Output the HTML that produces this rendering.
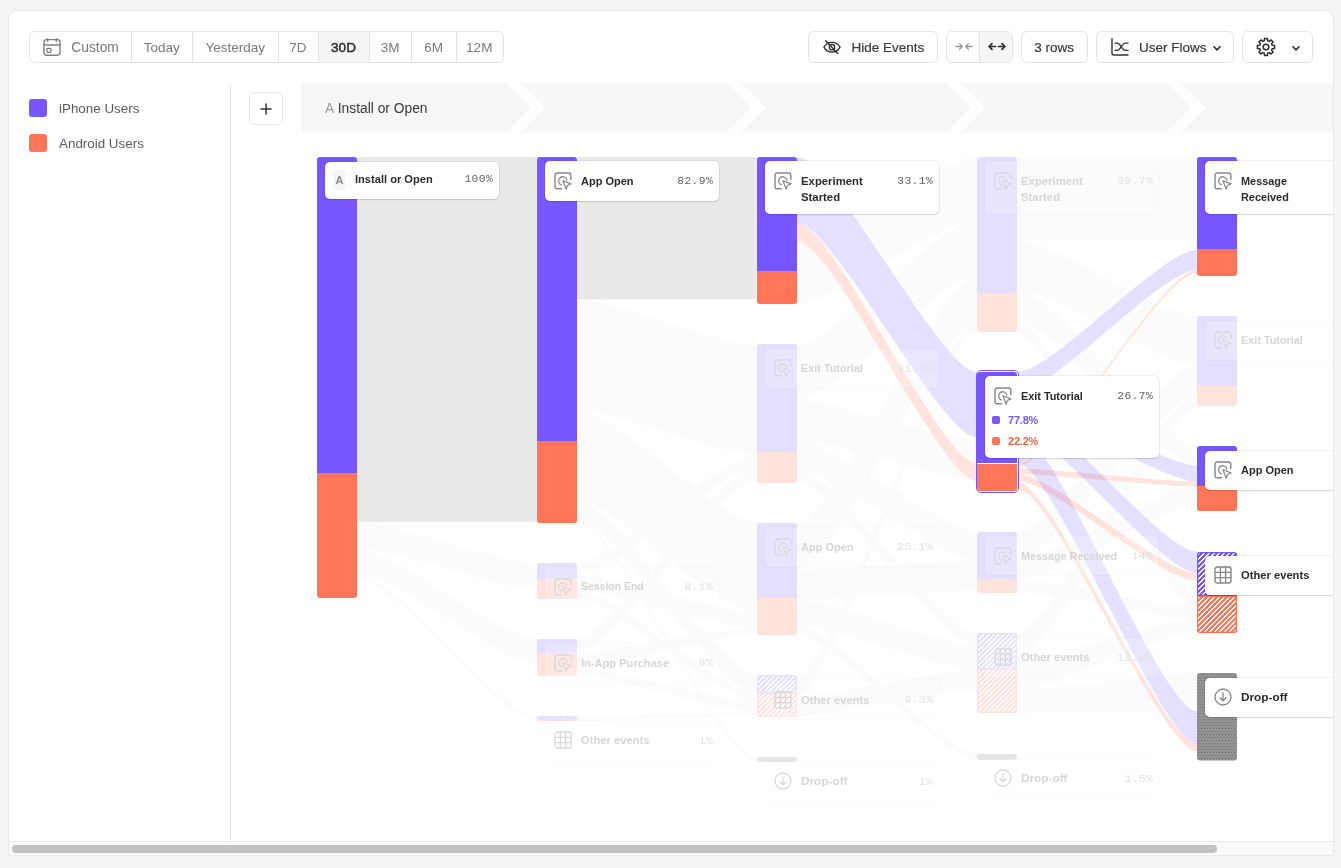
<!DOCTYPE html>
<html><head><meta charset="utf-8"><title>Flows</title>
<style>
*{box-sizing:border-box;margin:0;padding:0}
html,body{width:1341px;height:868px;overflow:hidden;background:#f5f5f5;font-family:"Liberation Sans",sans-serif}
#panel{position:absolute;left:8px;top:10px;width:1326px;height:846px;background:#fff;border-radius:10px 10px 0 0;overflow:hidden}
#abs{position:absolute;left:-8px;top:-10px;width:0;height:0}
#abs>*{position:absolute}
#frame{position:absolute;left:8px;top:10px;width:1326px;height:846px;border:1px solid #e9e9e9;border-radius:10px 10px 0 0;pointer-events:none}
.grp{position:absolute;border:1px solid #e3e3e3;border-radius:6px;background:#fff;font-size:13.5px;color:#7a7a7a;line-height:31.5px;white-space:nowrap;overflow:hidden}
.grp.btn{color:#3a3a3a;-webkit-text-stroke:.2px #3a3a3a}
.seg{position:absolute;top:0;height:30px;text-align:center}
.seg.act{background:#f5f5f5;color:#2b2b2b;-webkit-text-stroke:.45px #2b2b2b}
.lg{position:absolute;width:18px;height:18px;border-radius:3px}
.lt{position:absolute;font-size:13.4px;color:#5a5a5a;white-space:nowrap}
.flows{position:absolute;overflow:visible}
.bar{position:absolute}
.card{position:absolute;background:#fff;border-radius:5px;box-shadow:0 1px 1.5px rgba(0,0,0,.12),0 0 0 1px rgba(0,0,0,.055)}
.card.faded{background:rgba(255,255,255,.2);box-shadow:0 0 0 1px rgba(0,0,0,.016)}
.card .ic{position:absolute}
.ic{position:absolute}
.nm{position:absolute;left:36px;top:11.5px;font-size:11.1px;font-weight:bold;line-height:16px;color:#2b2b2b;white-space:nowrap}
.pct{position:absolute;right:6.2px;top:12.4px;font-family:"Liberation Mono",monospace;font-size:11.3px;letter-spacing:.42px;margin-right:-.42px;line-height:16px;color:#626262}
.faded .nm{color:#d6d6d6}
.faded .pct{color:#e1e1e1}
.badge{position:absolute;left:9px;top:8.5px;width:11px;height:20px;background:#f3f3f3;border-radius:3px;font-size:11px;font-weight:bold;color:#8a8a8a;text-align:center;line-height:20px}
.sel{position:absolute;border:1px solid #7856ff;border-radius:5px;background:#fff}
.sq{position:absolute;left:7px;width:8px;height:8px;border-radius:2px}
.sv{position:absolute;left:23px;font-size:11px;font-weight:bold;line-height:16px;letter-spacing:-.2px}
</style></head>
<body>
<div id="panel"><div id="abs">
<div class="grp" style="left:29px;top:31px;width:474.5px;height:32px"><div class="seg" style="left:-2px;width:102.5px;"><svg width="18" height="18" viewBox="0 0 18 18" fill="none" stroke="#808080" stroke-width="1.4" stroke-linecap="round" style="position:absolute;left:15px;top:6px"><rect x="1" y="1.6" width="16" height="15.6" rx="2.6"/><path d="M1 7H17M4.7 0.8V3.6M13.3 0.8V3.6"/><rect x="4" y="10.4" width="3.9" height="3.9" rx=".5" stroke-width="1.3"/></svg><span style="position:absolute;left:43.3px;top:0;font-size:13.8px">Custom</span></div><div class="seg" style="left:100.5px;width:61.5px;border-left:1px solid #e3e3e3;">Today</div><div class="seg" style="left:162px;width:85.5px;border-left:1px solid #e3e3e3;">Yesterday</div><div class="seg" style="left:247.5px;width:40.0px;border-left:1px solid #e3e3e3;">7D</div><div class="seg act" style="left:287.5px;width:51.0px;border-left:1px solid #e3e3e3;">30D</div><div class="seg" style="left:338.5px;width:42.5px;border-left:1px solid #e3e3e3;">3M</div><div class="seg" style="left:381px;width:44.5px;border-left:1px solid #e3e3e3;">6M</div><div class="seg" style="left:425.5px;width:46.5px;border-left:1px solid #e3e3e3;">12M</div></div>
<div class="grp btn" style="left:808px;top:31px;width:129.5px;height:32px"><svg width="18" height="14.4" viewBox="0 0 20 16" fill="none" stroke="#333" stroke-width="1.5" stroke-linecap="round" stroke-linejoin="round" style="position:absolute;left:14px;top:7.8px"><path d="M1 8C3 4.4 6.2 2.6 10 2.6S17 4.4 19 8C17 11.6 13.8 13.4 10 13.4S3 11.6 1 8Z"/><circle cx="10" cy="8" r="3"/><path d="M3 0.8L16.6 15.2"/></svg><span style="position:absolute;left:42.5px;top:0">Hide Events</span></div><div class="grp" style="left:946px;top:31px;width:66.5px;height:32px"><div style="position:absolute;left:32px;top:0;width:33.5px;height:30px;background:#f5f5f5;border-left:1px solid #e3e3e3;border-radius:0 5px 5px 0"></div><svg width="18" height="9" viewBox="0 0 20 10" fill="none" stroke="#9a9a9a" stroke-width="1.5" stroke-linecap="round" stroke-linejoin="round" style="position:absolute;left:7.5px;top:10.4px"><path d="M1 5H8.2M4.999999999999999 1.7999999999999998L8.2 5L4.999999999999999 8.2M19 5H11.8M15.0 1.7999999999999998L11.8 5L15.0 8.2"/></svg><svg width="18" height="9" viewBox="0 0 20 10" fill="none" stroke="#2a2a2a" stroke-width="1.8" stroke-linecap="round" stroke-linejoin="round" style="position:absolute;left:40.6px;top:10.4px"><path d="M8.4 5H1.2M4.4 1.7999999999999998L1.2 5L4.4 8.2M11.6 5H18.8M15.600000000000001 1.7999999999999998L18.8 5L15.600000000000001 8.2"/></svg></div><div class="grp btn" style="left:1021px;top:31px;width:66.5px;height:32px"><span style="position:absolute;left:0;right:0;text-align:center">3 rows</span></div><div class="grp btn" style="left:1096px;top:31px;width:137.5px;height:32px"><svg width="18" height="18" viewBox="0 0 18 18" fill="none" stroke="#333" stroke-width="1.4" stroke-linecap="round" stroke-linejoin="round" style="position:absolute;left:13.5px;top:6px"><path d="M1 0.8V15A2 2 0 0 0 3 17H17"/><path d="M4 5.2H6.4C9.6 5.2 10.8 12.4 14.4 12.4H17M4 12.4H6.4C9.6 12.4 10.8 5.2 14.4 5.2H17" stroke-width="1.3"/></svg><span style="position:absolute;left:42px;top:0">User Flows</span><svg width="8" height="4.8" viewBox="0 0 10 6" fill="none" stroke="#2d2d2d" stroke-width="2" stroke-linecap="round" stroke-linejoin="round" style="position:absolute;left:116px;top:14px"><path d="M1.2 1L5 4.8L8.8 1"/></svg></div><div class="grp btn" style="left:1242px;top:31px;width:70.5px;height:32px"><svg width="20" height="20" viewBox="0 0 20 20" fill="none" stroke="#2d2d2d" stroke-width="1.5" stroke-linejoin="round" style="position:absolute;left:12.5px;top:5px"><path d="M8.29 3.83L8.56 1.42L11.44 1.42L11.71 3.83L13.15 4.43L15.05 2.92L17.08 4.95L15.57 6.85L16.17 8.29L18.58 8.56L18.58 11.44L16.17 11.71L15.57 13.15L17.08 15.05L15.05 17.08L13.15 15.57L11.71 16.17L11.44 18.58L8.56 18.58L8.29 16.17L6.85 15.57L4.95 17.08L2.92 15.05L4.43 13.15L3.83 11.71L1.42 11.44L1.42 8.56L3.83 8.29L4.43 6.85L2.92 4.95L4.95 2.92L6.85 4.43Z"/><circle cx="10" cy="10" r="2.8"/></svg><svg width="8" height="4.8" viewBox="0 0 10 6" fill="none" stroke="#2d2d2d" stroke-width="2" stroke-linecap="round" stroke-linejoin="round" style="position:absolute;left:48.6px;top:14px"><path d="M1.2 1L5 4.8L8.8 1"/></svg></div>
<div style="left:230px;top:83px;width:1px;height:758px;background:#e8e8e8"></div>
<div class="lg" style="left:29px;top:99px;background:#7856ff"></div><div class="lt" style="left:59px;top:100.5px">iPhone Users</div>
<div class="lg" style="left:29px;top:134px;background:#ff7557"></div><div class="lt" style="left:59px;top:135.5px">Android Users</div>
<div class="grp" style="left:249px;top:92px;width:34px;height:32.5px;border-radius:6px">
<svg width="12" height="12" viewBox="0 0 12 12" stroke="#333" stroke-width="1.5" stroke-linecap="round" style="position:absolute;left:10px;top:9.5px"><path d="M6 1V11M1 6H11"/></svg></div>
<svg class="flows" width="1103" height="60" viewBox="230 80 1103 60" style="left:230px;top:80px" fill="#f6f6f6"><path d="M301,83H506.3L531,107.75L506.3,132.5H301Z"/><path d="M521,83H726.3L751,107.75L726.3,132.5H521L545.7,107.75Z"/><path d="M741,83H946.3L971,107.75L946.3,132.5H741L765.7,107.75Z"/><path d="M961,83H1166.3L1191,107.75L1166.3,132.5H961L985.7,107.75Z"/><path d="M1181,83H1333V132.5H1181L1205.7,107.75Z"/></svg>
<div style="left:325px;top:99px;font-size:13.8px;line-height:20px;color:#9a9a9a;white-space:nowrap">A <span style="color:#3a3a3a;margin-left:0.5px">Install or Open</span></div>
<svg class="flows" width="1103" height="759" viewBox="230 83 1103 759" style="left:230px;top:83px"><rect x="357" y="157" width="180" height="365" fill="#e9e9e9"/><rect x="577" y="157" width="180" height="142.5" fill="#e9e9e9"/><path d="M357,522.0C393.0,522.0 501.0,563.0 537,563.0L537,589.0C501.0,589.0 393.0,548.0 357,548.0Z" fill="#fbfbfb"/><path d="M357,548.0C393.0,548.0 501.0,639.0 537,639.0L537,664.0C501.0,664.0 393.0,573.0 357,573.0Z" fill="#fbfbfb"/><path d="M357,573.0C393.0,573.0 501.0,716.0 537,716.0L537,721.0C501.0,721.0 393.0,578.0 357,578.0Z" fill="#fbfbfb"/><path d="M577,299.5C613.0,299.5 721.0,345.0 757,345.0L757,455.0C721.0,455.0 613.0,410.0 577,410.0Z" fill="#fbfbfb"/><path d="M577,410.0C613.0,410.0 721.0,523.0 757,523.0L757,613.0C721.0,613.0 613.0,500.0 577,500.0Z" fill="#fbfbfb"/><path d="M577,500.0C613.0,500.0 721.0,676.0 757,676.0L757,694.0C721.0,694.0 613.0,518.0 577,518.0Z" fill="#fbfbfb"/><path d="M577,518.0C613.0,518.0 721.0,757.0 757,757.0L757,761.0C721.0,761.0 613.0,522.0 577,522.0Z" fill="#fbfbfb"/><path d="M577,563.0C613.0,563.0 721.0,455.0 757,455.0L757,467.0C721.0,467.0 613.0,575.0 577,575.0Z" fill="#fbfbfb"/><path d="M577,575.0C613.0,575.0 721.0,613.0 757,613.0L757,628.0C721.0,628.0 613.0,590.0 577,590.0Z" fill="#fbfbfb"/><path d="M577,590.0C613.0,590.0 721.0,694.0 757,694.0L757,702.0C721.0,702.0 613.0,598.0 577,598.0Z" fill="#fbfbfb"/><path d="M577,639.0C613.0,639.0 721.0,467.0 757,467.0L757,480.0C721.0,480.0 613.0,652.0 577,652.0Z" fill="#fbfbfb"/><path d="M577,652.0C613.0,652.0 721.0,628.0 757,628.0L757,634.0C721.0,634.0 613.0,668.0 577,668.0Z" fill="#fbfbfb"/><path d="M577,668.0C613.0,668.0 721.0,702.0 757,702.0L757,712.0C721.0,712.0 613.0,675.0 577,675.0Z" fill="#fbfbfb"/><path d="M577,716.0C613.0,716.0 721.0,712.0 757,712.0L757,716.0C721.0,716.0 613.0,721.0 577,721.0Z" fill="#fbfbfb"/><path d="M797,241.0C833.0,241.0 941.0,157.0 977,157.0L977,220.0C941.0,220.0 833.0,304.0 797,304.0Z" fill="#fbfbfb"/><path d="M797,345.0C833.0,345.0 941.0,220.0 977,220.0L977,275.0C941.0,275.0 833.0,400.0 797,400.0Z" fill="#fbfbfb"/><path d="M797,400.0C833.0,400.0 941.0,440.0 977,440.0L977,480.0C941.0,480.0 833.0,440.0 797,440.0Z" fill="#fbfbfb"/><path d="M797,440.0C833.0,440.0 941.0,531.0 977,531.0L977,561.0C941.0,561.0 833.0,470.0 797,470.0Z" fill="#fbfbfb"/><path d="M797,470.0C833.0,470.0 941.0,633.0 977,633.0L977,645.0C941.0,645.0 833.0,482.0 797,482.0Z" fill="#fbfbfb"/><path d="M797,523.0C833.0,523.0 941.0,275.0 977,275.0L977,322.0C941.0,322.0 833.0,570.0 797,570.0Z" fill="#fbfbfb"/><path d="M797,570.0C833.0,570.0 941.0,561.0 977,561.0L977,590.0C941.0,590.0 833.0,600.0 797,600.0Z" fill="#fbfbfb"/><path d="M797,600.0C833.0,600.0 941.0,645.0 977,645.0L977,670.0C941.0,670.0 833.0,625.0 797,625.0Z" fill="#fbfbfb"/><path d="M797,625.0C833.0,625.0 941.0,754.0 977,754.0L977,760.0C941.0,760.0 833.0,634.0 797,634.0Z" fill="#fbfbfb"/><path d="M797,676.0C833.0,676.0 941.0,322.0 977,322.0L977,332.0C941.0,332.0 833.0,696.0 797,696.0Z" fill="#fbfbfb"/><path d="M797,696.0C833.0,696.0 941.0,670.0 977,670.0L977,690.0C941.0,690.0 833.0,716.0 797,716.0Z" fill="#fbfbfb"/><path d="M1017,157.0C1053.0,157.0 1161.0,157.0 1197,157.0L1197,240.0C1161.0,240.0 1053.0,240.0 1017,240.0Z" fill="#fbfbfb"/><path d="M1017,240.0C1053.0,240.0 1161.0,316.0 1197,316.0L1197,366.0C1161.0,366.0 1053.0,290.0 1017,290.0Z" fill="#fbfbfb"/><path d="M1017,290.0C1053.0,290.0 1161.0,446.0 1197,446.0L1197,465.0C1161.0,465.0 1053.0,320.0 1017,320.0Z" fill="#fbfbfb"/><path d="M1017,320.0C1053.0,320.0 1161.0,595.0 1197,595.0L1197,607.0C1161.0,607.0 1053.0,332.0 1017,332.0Z" fill="#fbfbfb"/><path d="M1017,531.0C1053.0,531.0 1161.0,366.0 1197,366.0L1197,395.0C1161.0,395.0 1053.0,560.0 1017,560.0Z" fill="#fbfbfb"/><path d="M1017,560.0C1053.0,560.0 1161.0,486.0 1197,486.0L1197,506.0C1161.0,506.0 1053.0,580.0 1017,580.0Z" fill="#fbfbfb"/><path d="M1017,580.0C1053.0,580.0 1161.0,607.0 1197,607.0L1197,619.0C1161.0,619.0 1053.0,592.0 1017,592.0Z" fill="#fbfbfb"/><path d="M1017,633.0C1053.0,633.0 1161.0,395.0 1197,395.0L1197,406.0C1161.0,406.0 1053.0,660.0 1017,660.0Z" fill="#fbfbfb"/><path d="M1017,660.0C1053.0,660.0 1161.0,619.0 1197,619.0L1197,632.0C1161.0,632.0 1053.0,690.0 1017,690.0Z" fill="#fbfbfb"/><path d="M1017,690.0C1053.0,690.0 1161.0,673.0 1197,673.0L1197,710.0C1161.0,710.0 1053.0,713.0 1017,713.0Z" fill="#fbfbfb"/><g style="isolation:isolate"><path d="M797,157.0C833.0,157.0 941.0,372.0 977,372.0L977,437.5C941.0,437.5 833.0,223.0 797,223.0Z" fill="#e6e0ff" style="mix-blend-mode:multiply"/><path d="M797,223.0C833.0,223.0 941.0,463.5 977,463.5L977,481.0C941.0,481.0 833.0,241.0 797,241.0Z" fill="#ffe3dd" style="mix-blend-mode:multiply"/><path d="M1017,372.0C1053.0,372.0 1161.0,250.0 1197,250.0L1197,270.0C1161.0,270.0 1053.0,392.0 1017,392.0Z" fill="#e6e0ff" style="mix-blend-mode:multiply"/><path d="M1017,392.0C1053.0,392.0 1161.0,465.5 1197,465.5L1197,481.5C1161.0,481.5 1053.0,408.0 1017,408.0Z" fill="#e6e0ff" style="mix-blend-mode:multiply"/><path d="M1017,408.0C1053.0,408.0 1161.0,551.5 1197,551.5L1197,573.0C1161.0,573.0 1053.0,430.0 1017,430.0Z" fill="#e6e0ff" style="mix-blend-mode:multiply"/><path d="M1017,430.0C1053.0,430.0 1161.0,711.0 1197,711.0L1197,743.5C1161.0,743.5 1053.0,463.0 1017,463.0Z" fill="#e6e0ff" style="mix-blend-mode:multiply"/><path d="M1017,464.5C1053.0,464.5 1161.0,270.0 1197,270.0L1197,273.0C1161.0,273.0 1053.0,467.0 1017,467.0Z" fill="#ffe3dd" style="mix-blend-mode:multiply"/><path d="M1017,468.5C1053.0,468.5 1161.0,481.5 1197,481.5L1197,486.5C1161.0,486.5 1053.0,474.0 1017,474.0Z" fill="#ffe3dd" style="mix-blend-mode:multiply"/><path d="M1017,474.0C1053.0,474.0 1161.0,573.0 1197,573.0L1197,581.0C1161.0,581.0 1053.0,481.0 1017,481.0Z" fill="#ffe3dd" style="mix-blend-mode:multiply"/><path d="M1017,481.5C1053.0,481.5 1161.0,743.5 1197,743.5L1197,751.0C1161.0,751.0 1053.0,488.5 1017,488.5Z" fill="#ffe3dd" style="mix-blend-mode:multiply"/></g></svg>
<div class="bar" style="left:317px;top:157px;width:40px;height:316px;border-radius:3px 3px 0 0;background:#7856ff;"></div><div class="bar" style="left:317px;top:473px;width:40px;height:125px;border-radius:0 0 3px 3px;background:#ff7557;"></div><div class="card" style="left:325px;top:161.5px;width:174px;height:37px"><span class="badge">A</span><span class="nm" style="left:30px;top:9.5px">Install or Open</span><span class="pct" style="top:9.5px">100%</span></div><div class="bar" style="left:537px;top:157px;width:40px;height:284px;border-radius:3px 3px 0 0;background:#7856ff;"></div><div class="bar" style="left:537px;top:441px;width:40px;height:81.5px;border-radius:0 0 3px 3px;background:#ff7557;"></div><div class="card" style="left:545px;top:161px;width:174px;height:40px"><svg class="ic" style="left:9px;top:10.5px;opacity:1" width="18" height="18" viewBox="0 0 18 18" fill="none" stroke="#868686" stroke-width="1.4" stroke-linecap="round" stroke-linejoin="round"><path d="M7.4 16.8H3.2A2.2 2.2 0 0 1 1 14.6V3.2A2.2 2.2 0 0 1 3.2 1H14.6A2.2 2.2 0 0 1 16.8 3.2V7.6"/><path d="M7.3 12.9A4.2 4.2 0 1 1 12.9 8.1" stroke-width="1.3"/><path d="M8.9 8.7L17 11.9L13.4 13.5L12.2 17.2Z" stroke-width="1.2"/></svg><span class="nm" style="font-size:11.0px">App Open</span><span class="pct">82.9%</span></div><div class="bar" style="left:537px;top:563px;width:40px;height:16px;border-radius:3px 3px 0 0;background:#e4deff;"></div><div class="bar" style="left:537px;top:579px;width:40px;height:19.5px;border-radius:0 0 3px 3px;background:#ffe2dc;"></div><div class="card faded" style="left:545px;top:567px;width:174px;height:39.5px"><svg class="ic" style="left:9px;top:10.5px;opacity:1" width="18" height="18" viewBox="0 0 18 18" fill="none" stroke="#d9d9d9" stroke-width="1.4" stroke-linecap="round" stroke-linejoin="round"><path d="M7.4 16.8H3.2A2.2 2.2 0 0 1 1 14.6V3.2A2.2 2.2 0 0 1 3.2 1H14.6A2.2 2.2 0 0 1 16.8 3.2V7.6"/><path d="M7.3 12.9A4.2 4.2 0 1 1 12.9 8.1" stroke-width="1.3"/><path d="M8.9 8.7L17 11.9L13.4 13.5L12.2 17.2Z" stroke-width="1.2"/></svg><span class="nm" style="font-size:10.45px">Session End</span><span class="pct">8.1%</span></div><div class="bar" style="left:537px;top:639px;width:40px;height:14px;border-radius:3px 3px 0 0;background:#e4deff;"></div><div class="bar" style="left:537px;top:653px;width:40px;height:22.5px;border-radius:0 0 3px 3px;background:#ffe2dc;"></div><div class="card faded" style="left:545px;top:643px;width:174px;height:39.5px"><svg class="ic" style="left:9px;top:10.5px;opacity:1" width="18" height="18" viewBox="0 0 18 18" fill="none" stroke="#d9d9d9" stroke-width="1.4" stroke-linecap="round" stroke-linejoin="round"><path d="M7.4 16.8H3.2A2.2 2.2 0 0 1 1 14.6V3.2A2.2 2.2 0 0 1 3.2 1H14.6A2.2 2.2 0 0 1 16.8 3.2V7.6"/><path d="M7.3 12.9A4.2 4.2 0 1 1 12.9 8.1" stroke-width="1.3"/><path d="M8.9 8.7L17 11.9L13.4 13.5L12.2 17.2Z" stroke-width="1.2"/></svg><span class="nm" style="font-size:11.1px">In-App Purchase</span><span class="pct">8%</span></div><div class="bar" style="left:537px;top:716px;width:40px;height:2.5px;border-radius:3px 3px 0 0;background:repeating-linear-gradient(135deg,#e4deff 0,#e4deff 1.75px,#fff 2.05px,#fff 3.2px,#e4deff 3.5px);box-shadow:inset 0 0 0 1.3px #e4deff;"></div><div class="bar" style="left:537px;top:718.5px;width:40px;height:2.5px;border-radius:0 0 3px 3px;background:repeating-linear-gradient(135deg,#ffe2dc 0,#ffe2dc 1.75px,#fff 2.05px,#fff 3.2px,#ffe2dc 3.5px);box-shadow:inset 0 0 0 1.3px #ffe2dc;"></div><div class="card faded" style="left:545px;top:720.5px;width:174px;height:39.5px"><svg class="ic" style="left:9px;top:10.5px;opacity:1" width="18" height="18" viewBox="0 0 18 18" fill="none" stroke="#d9d9d9" stroke-width="1.4"><rect x="1" y="1" width="16" height="16" rx="2.2"/><path d="M6.4 1V17M11.6 1V17M1 6.4H17M1 11.6H17" stroke-width="1.3"/></svg><span class="nm" style="font-size:11.2px">Other events</span><span class="pct">1%</span></div><div class="bar" style="left:757px;top:157px;width:40px;height:114px;border-radius:3px 3px 0 0;background:#7856ff;"></div><div class="bar" style="left:757px;top:271px;width:40px;height:33px;border-radius:0 0 3px 3px;background:#ff7557;"></div><div class="card" style="left:765px;top:161px;width:174px;height:53px"><svg class="ic" style="left:9px;top:10.5px;opacity:1" width="18" height="18" viewBox="0 0 18 18" fill="none" stroke="#868686" stroke-width="1.4" stroke-linecap="round" stroke-linejoin="round"><path d="M7.4 16.8H3.2A2.2 2.2 0 0 1 1 14.6V3.2A2.2 2.2 0 0 1 3.2 1H14.6A2.2 2.2 0 0 1 16.8 3.2V7.6"/><path d="M7.3 12.9A4.2 4.2 0 1 1 12.9 8.1" stroke-width="1.3"/><path d="M8.9 8.7L17 11.9L13.4 13.5L12.2 17.2Z" stroke-width="1.2"/></svg><span class="nm" style="font-size:11.35px">Experiment<br>Started</span><span class="pct">33.1%</span></div><div class="bar" style="left:757px;top:344px;width:40px;height:108px;border-radius:3px 3px 0 0;background:#e4deff;"></div><div class="bar" style="left:757px;top:452px;width:40px;height:31px;border-radius:0 0 3px 3px;background:#ffe2dc;"></div><div class="card faded" style="left:765px;top:348.5px;width:174px;height:39.5px"><svg class="ic" style="left:9px;top:10.5px;opacity:1" width="18" height="18" viewBox="0 0 18 18" fill="none" stroke="#d9d9d9" stroke-width="1.4" stroke-linecap="round" stroke-linejoin="round"><path d="M7.4 16.8H3.2A2.2 2.2 0 0 1 1 14.6V3.2A2.2 2.2 0 0 1 3.2 1H14.6A2.2 2.2 0 0 1 16.8 3.2V7.6"/><path d="M7.3 12.9A4.2 4.2 0 1 1 12.9 8.1" stroke-width="1.3"/><path d="M8.9 8.7L17 11.9L13.4 13.5L12.2 17.2Z" stroke-width="1.2"/></svg><span class="nm" style="font-size:10.85px">Exit Tutorial</span><span class="pct">31.5%</span></div><div class="bar" style="left:757px;top:523px;width:40px;height:75px;border-radius:3px 3px 0 0;background:#e4deff;"></div><div class="bar" style="left:757px;top:598px;width:40px;height:36.5px;border-radius:0 0 3px 3px;background:#ffe2dc;"></div><div class="card faded" style="left:765px;top:527px;width:174px;height:39.5px"><svg class="ic" style="left:9px;top:10.5px;opacity:1" width="18" height="18" viewBox="0 0 18 18" fill="none" stroke="#d9d9d9" stroke-width="1.4" stroke-linecap="round" stroke-linejoin="round"><path d="M7.4 16.8H3.2A2.2 2.2 0 0 1 1 14.6V3.2A2.2 2.2 0 0 1 3.2 1H14.6A2.2 2.2 0 0 1 16.8 3.2V7.6"/><path d="M7.3 12.9A4.2 4.2 0 1 1 12.9 8.1" stroke-width="1.3"/><path d="M8.9 8.7L17 11.9L13.4 13.5L12.2 17.2Z" stroke-width="1.2"/></svg><span class="nm" style="font-size:11.0px">App Open</span><span class="pct">25.1%</span></div><div class="bar" style="left:757px;top:675px;width:40px;height:17.5px;border-radius:3px 3px 0 0;background:repeating-linear-gradient(135deg,#e4deff 0,#e4deff 1.75px,#fff 2.05px,#fff 3.2px,#e4deff 3.5px);box-shadow:inset 0 0 0 1.3px #e4deff;"></div><div class="bar" style="left:757px;top:692.5px;width:40px;height:24.0px;border-radius:0 0 3px 3px;background:repeating-linear-gradient(135deg,#ffe2dc 0,#ffe2dc 1.75px,#fff 2.05px,#fff 3.2px,#ffe2dc 3.5px);box-shadow:inset 0 0 0 1.3px #ffe2dc;"></div><div class="card faded" style="left:765px;top:680px;width:174px;height:39px"><svg class="ic" style="left:9px;top:10.5px;opacity:1" width="18" height="18" viewBox="0 0 18 18" fill="none" stroke="#d9d9d9" stroke-width="1.4"><rect x="1" y="1" width="16" height="16" rx="2.2"/><path d="M6.4 1V17M11.6 1V17M1 6.4H17M1 11.6H17" stroke-width="1.3"/></svg><span class="nm" style="font-size:11.2px">Other events</span><span class="pct">9.3%</span></div><div class="bar" style="left:757px;top:757px;width:40px;height:4.5px;border-radius:3px 3px 3px 3px;background:#e6e6e6;"></div><div class="card faded" style="left:765px;top:761.5px;width:174px;height:39.5px"><svg class="ic" style="left:9px;top:10.5px;opacity:1" width="18" height="18" viewBox="0 0 18 18" fill="none" stroke="#d9d9d9" stroke-width="1.3" stroke-linecap="round" stroke-linejoin="round"><circle cx="9" cy="9" r="8"/><path d="M9 5V12.6M5.9 9.8L9 12.8L12.1 9.8"/></svg><span class="nm" style="font-size:11.8px">Drop-off</span><span class="pct">1%</span></div><div class="bar" style="left:977px;top:157px;width:40px;height:136px;border-radius:3px 3px 0 0;background:#e4deff;"></div><div class="bar" style="left:977px;top:293px;width:40px;height:39px;border-radius:0 0 3px 3px;background:#ffe2dc;"></div><div class="card faded" style="left:985px;top:161px;width:174px;height:53px"><svg class="ic" style="left:9px;top:10.5px;opacity:1" width="18" height="18" viewBox="0 0 18 18" fill="none" stroke="#d9d9d9" stroke-width="1.4" stroke-linecap="round" stroke-linejoin="round"><path d="M7.4 16.8H3.2A2.2 2.2 0 0 1 1 14.6V3.2A2.2 2.2 0 0 1 3.2 1H14.6A2.2 2.2 0 0 1 16.8 3.2V7.6"/><path d="M7.3 12.9A4.2 4.2 0 1 1 12.9 8.1" stroke-width="1.3"/><path d="M8.9 8.7L17 11.9L13.4 13.5L12.2 17.2Z" stroke-width="1.2"/></svg><span class="nm" style="font-size:11.35px">Experiment<br>Started</span><span class="pct">39.7%</span></div><div class="sel" style="left:975.5px;top:370px;width:43px;height:122.5px"></div><div class="bar" style="left:977px;top:372px;width:40px;height:91px;border-radius:3px 3px 0 0;background:#7856ff;"></div><div class="bar" style="left:977px;top:464px;width:40px;height:27px;border-radius:0 0 3px 3px;background:#ff7557;"></div><div class="card" style="left:985px;top:376px;width:174px;height:82px"><svg class="ic" style="left:9px;top:10.5px;opacity:1" width="18" height="18" viewBox="0 0 18 18" fill="none" stroke="#868686" stroke-width="1.4" stroke-linecap="round" stroke-linejoin="round"><path d="M7.4 16.8H3.2A2.2 2.2 0 0 1 1 14.6V3.2A2.2 2.2 0 0 1 3.2 1H14.6A2.2 2.2 0 0 1 16.8 3.2V7.6"/><path d="M7.3 12.9A4.2 4.2 0 1 1 12.9 8.1" stroke-width="1.3"/><path d="M8.9 8.7L17 11.9L13.4 13.5L12.2 17.2Z" stroke-width="1.2"/></svg><span class="nm" style="font-size:10.85px">Exit Tutorial</span><span class="pct">26.7%</span><span class="sq" style="top:40px;background:#7856ff"></span><span class="sv" style="top:35.5px;color:#7856ff">77.8%</span><span class="sq" style="top:61px;background:#ff7557"></span><span class="sv" style="top:56.5px;color:#f2643f">22.2%</span></div><div class="bar" style="left:977px;top:531.5px;width:40px;height:47.0px;border-radius:3px 3px 0 0;background:#e4deff;"></div><div class="bar" style="left:977px;top:578.5px;width:40px;height:14.0px;border-radius:0 0 3px 3px;background:#ffe2dc;"></div><div class="card faded" style="left:985px;top:536px;width:174px;height:39px"><svg class="ic" style="left:9px;top:10.5px;opacity:1" width="18" height="18" viewBox="0 0 18 18" fill="none" stroke="#d9d9d9" stroke-width="1.4" stroke-linecap="round" stroke-linejoin="round"><path d="M7.4 16.8H3.2A2.2 2.2 0 0 1 1 14.6V3.2A2.2 2.2 0 0 1 3.2 1H14.6A2.2 2.2 0 0 1 16.8 3.2V7.6"/><path d="M7.3 12.9A4.2 4.2 0 1 1 12.9 8.1" stroke-width="1.3"/><path d="M8.9 8.7L17 11.9L13.4 13.5L12.2 17.2Z" stroke-width="1.2"/></svg><span class="nm" style="font-size:10.8px">Message Received</span><span class="pct">14%</span></div><div class="bar" style="left:977px;top:633px;width:40px;height:36px;border-radius:3px 3px 0 0;background:repeating-linear-gradient(135deg,#e4deff 0,#e4deff 1.75px,#fff 2.05px,#fff 3.2px,#e4deff 3.5px);box-shadow:inset 0 0 0 1.3px #e4deff;"></div><div class="bar" style="left:977px;top:669px;width:40px;height:44px;border-radius:0 0 3px 3px;background:repeating-linear-gradient(135deg,#ffe2dc 0,#ffe2dc 1.75px,#fff 2.05px,#fff 3.2px,#ffe2dc 3.5px);box-shadow:inset 0 0 0 1.3px #ffe2dc;"></div><div class="card faded" style="left:985px;top:637.5px;width:174px;height:39px"><svg class="ic" style="left:9px;top:10.5px;opacity:1" width="18" height="18" viewBox="0 0 18 18" fill="none" stroke="#d9d9d9" stroke-width="1.4"><rect x="1" y="1" width="16" height="16" rx="2.2"/><path d="M6.4 1V17M11.6 1V17M1 6.4H17M1 11.6H17" stroke-width="1.3"/></svg><span class="nm" style="font-size:11.2px">Other events</span><span class="pct">18.2%</span></div><div class="bar" style="left:977px;top:754px;width:40px;height:6px;border-radius:3px 3px 3px 3px;background:#e6e6e6;"></div><div class="card faded" style="left:985px;top:758.5px;width:174px;height:39px"><svg class="ic" style="left:9px;top:10.5px;opacity:1" width="18" height="18" viewBox="0 0 18 18" fill="none" stroke="#d9d9d9" stroke-width="1.3" stroke-linecap="round" stroke-linejoin="round"><circle cx="9" cy="9" r="8"/><path d="M9 5V12.6M5.9 9.8L9 12.8L12.1 9.8"/></svg><span class="nm" style="font-size:11.8px">Drop-off</span><span class="pct">1.5%</span></div><div class="bar" style="left:1197px;top:157px;width:40px;height:92px;border-radius:3px 3px 0 0;background:#7856ff;"></div><div class="bar" style="left:1197px;top:249px;width:40px;height:27px;border-radius:0 0 3px 3px;background:#ff7557;"></div><div class="card" style="left:1205px;top:161px;width:174px;height:53px"><svg class="ic" style="left:9px;top:10.5px;opacity:1" width="18" height="18" viewBox="0 0 18 18" fill="none" stroke="#868686" stroke-width="1.4" stroke-linecap="round" stroke-linejoin="round"><path d="M7.4 16.8H3.2A2.2 2.2 0 0 1 1 14.6V3.2A2.2 2.2 0 0 1 3.2 1H14.6A2.2 2.2 0 0 1 16.8 3.2V7.6"/><path d="M7.3 12.9A4.2 4.2 0 1 1 12.9 8.1" stroke-width="1.3"/><path d="M8.9 8.7L17 11.9L13.4 13.5L12.2 17.2Z" stroke-width="1.2"/></svg><span class="nm" style="font-size:10.9px">Message<br>Received</span></div><div class="bar" style="left:1197px;top:316px;width:40px;height:70px;border-radius:3px 3px 0 0;background:#e4deff;"></div><div class="bar" style="left:1197px;top:386px;width:40px;height:20px;border-radius:0 0 3px 3px;background:#ffe2dc;"></div><div class="card faded" style="left:1205px;top:320.5px;width:174px;height:39.5px"><svg class="ic" style="left:9px;top:10.5px;opacity:1" width="18" height="18" viewBox="0 0 18 18" fill="none" stroke="#d9d9d9" stroke-width="1.4" stroke-linecap="round" stroke-linejoin="round"><path d="M7.4 16.8H3.2A2.2 2.2 0 0 1 1 14.6V3.2A2.2 2.2 0 0 1 3.2 1H14.6A2.2 2.2 0 0 1 16.8 3.2V7.6"/><path d="M7.3 12.9A4.2 4.2 0 1 1 12.9 8.1" stroke-width="1.3"/><path d="M8.9 8.7L17 11.9L13.4 13.5L12.2 17.2Z" stroke-width="1.2"/></svg><span class="nm" style="font-size:10.85px">Exit Tutorial</span></div><div class="bar" style="left:1197px;top:446px;width:40px;height:40px;border-radius:3px 3px 0 0;background:#7856ff;"></div><div class="bar" style="left:1197px;top:486px;width:40px;height:24.5px;border-radius:0 0 3px 3px;background:#ff7557;"></div><div class="card" style="left:1205px;top:450.5px;width:174px;height:39px"><svg class="ic" style="left:9px;top:10.5px;opacity:1" width="18" height="18" viewBox="0 0 18 18" fill="none" stroke="#868686" stroke-width="1.4" stroke-linecap="round" stroke-linejoin="round"><path d="M7.4 16.8H3.2A2.2 2.2 0 0 1 1 14.6V3.2A2.2 2.2 0 0 1 3.2 1H14.6A2.2 2.2 0 0 1 16.8 3.2V7.6"/><path d="M7.3 12.9A4.2 4.2 0 1 1 12.9 8.1" stroke-width="1.3"/><path d="M8.9 8.7L17 11.9L13.4 13.5L12.2 17.2Z" stroke-width="1.2"/></svg><span class="nm" style="font-size:11.0px">App Open</span></div><div class="bar" style="left:1197px;top:551.5px;width:40px;height:44.5px;border-radius:3px 3px 0 0;background:repeating-linear-gradient(135deg,#7856ff 0,#7856ff 1.75px,#fff 2.05px,#fff 3.2px,#7856ff 3.5px);box-shadow:inset 0 0 0 1.3px #7856ff;"></div><div class="bar" style="left:1197px;top:596px;width:40px;height:36.5px;border-radius:0 0 3px 3px;background:repeating-linear-gradient(135deg,#ff7557 0,#ff7557 1.75px,#fff 2.05px,#fff 3.2px,#ff7557 3.5px);box-shadow:inset 0 0 0 1.3px #ff7557;"></div><div class="card" style="left:1205px;top:555.5px;width:174px;height:39px"><svg class="ic" style="left:9px;top:10.5px;opacity:1" width="18" height="18" viewBox="0 0 18 18" fill="none" stroke="#868686" stroke-width="1.4"><rect x="1" y="1" width="16" height="16" rx="2.2"/><path d="M6.4 1V17M11.6 1V17M1 6.4H17M1 11.6H17" stroke-width="1.3"/></svg><span class="nm" style="font-size:11.2px">Other events</span></div><svg class="bar" style="left:1197px;top:673px" width="40" height="87.5"><defs><pattern id="dz" width="3" height="6" patternUnits="userSpaceOnUse"><rect x="1" y="1" width="1" height="1" fill="#6b6b6b"/><rect x="2.5" y="4" width="1" height="1" fill="#6b6b6b"/><rect x="-0.5" y="4" width="1" height="1" fill="#6b6b6b"/></pattern></defs><rect width="40" height="87.5" rx="3" fill="#939393"/><rect width="40" height="87.5" rx="3" fill="url(#dz)"/></svg><div class="card" style="left:1205px;top:677.5px;width:174px;height:39px"><svg class="ic" style="left:9px;top:10.5px;opacity:1" width="18" height="18" viewBox="0 0 18 18" fill="none" stroke="#868686" stroke-width="1.3" stroke-linecap="round" stroke-linejoin="round"><circle cx="9" cy="9" r="8"/><path d="M9 5V12.6M5.9 9.8L9 12.8L12.1 9.8"/></svg><span class="nm" style="font-size:11.8px">Drop-off</span></div>
<div style="left:8px;top:841px;width:1326px;height:15px;background:#fafafa;border-top:1px solid #e8e8e8"></div>
<div style="left:11.5px;top:845px;width:1205.5px;height:8px;border-radius:4px;background:#c2c2c2"></div>
</div></div>
<div id="frame"></div>
</body></html>
